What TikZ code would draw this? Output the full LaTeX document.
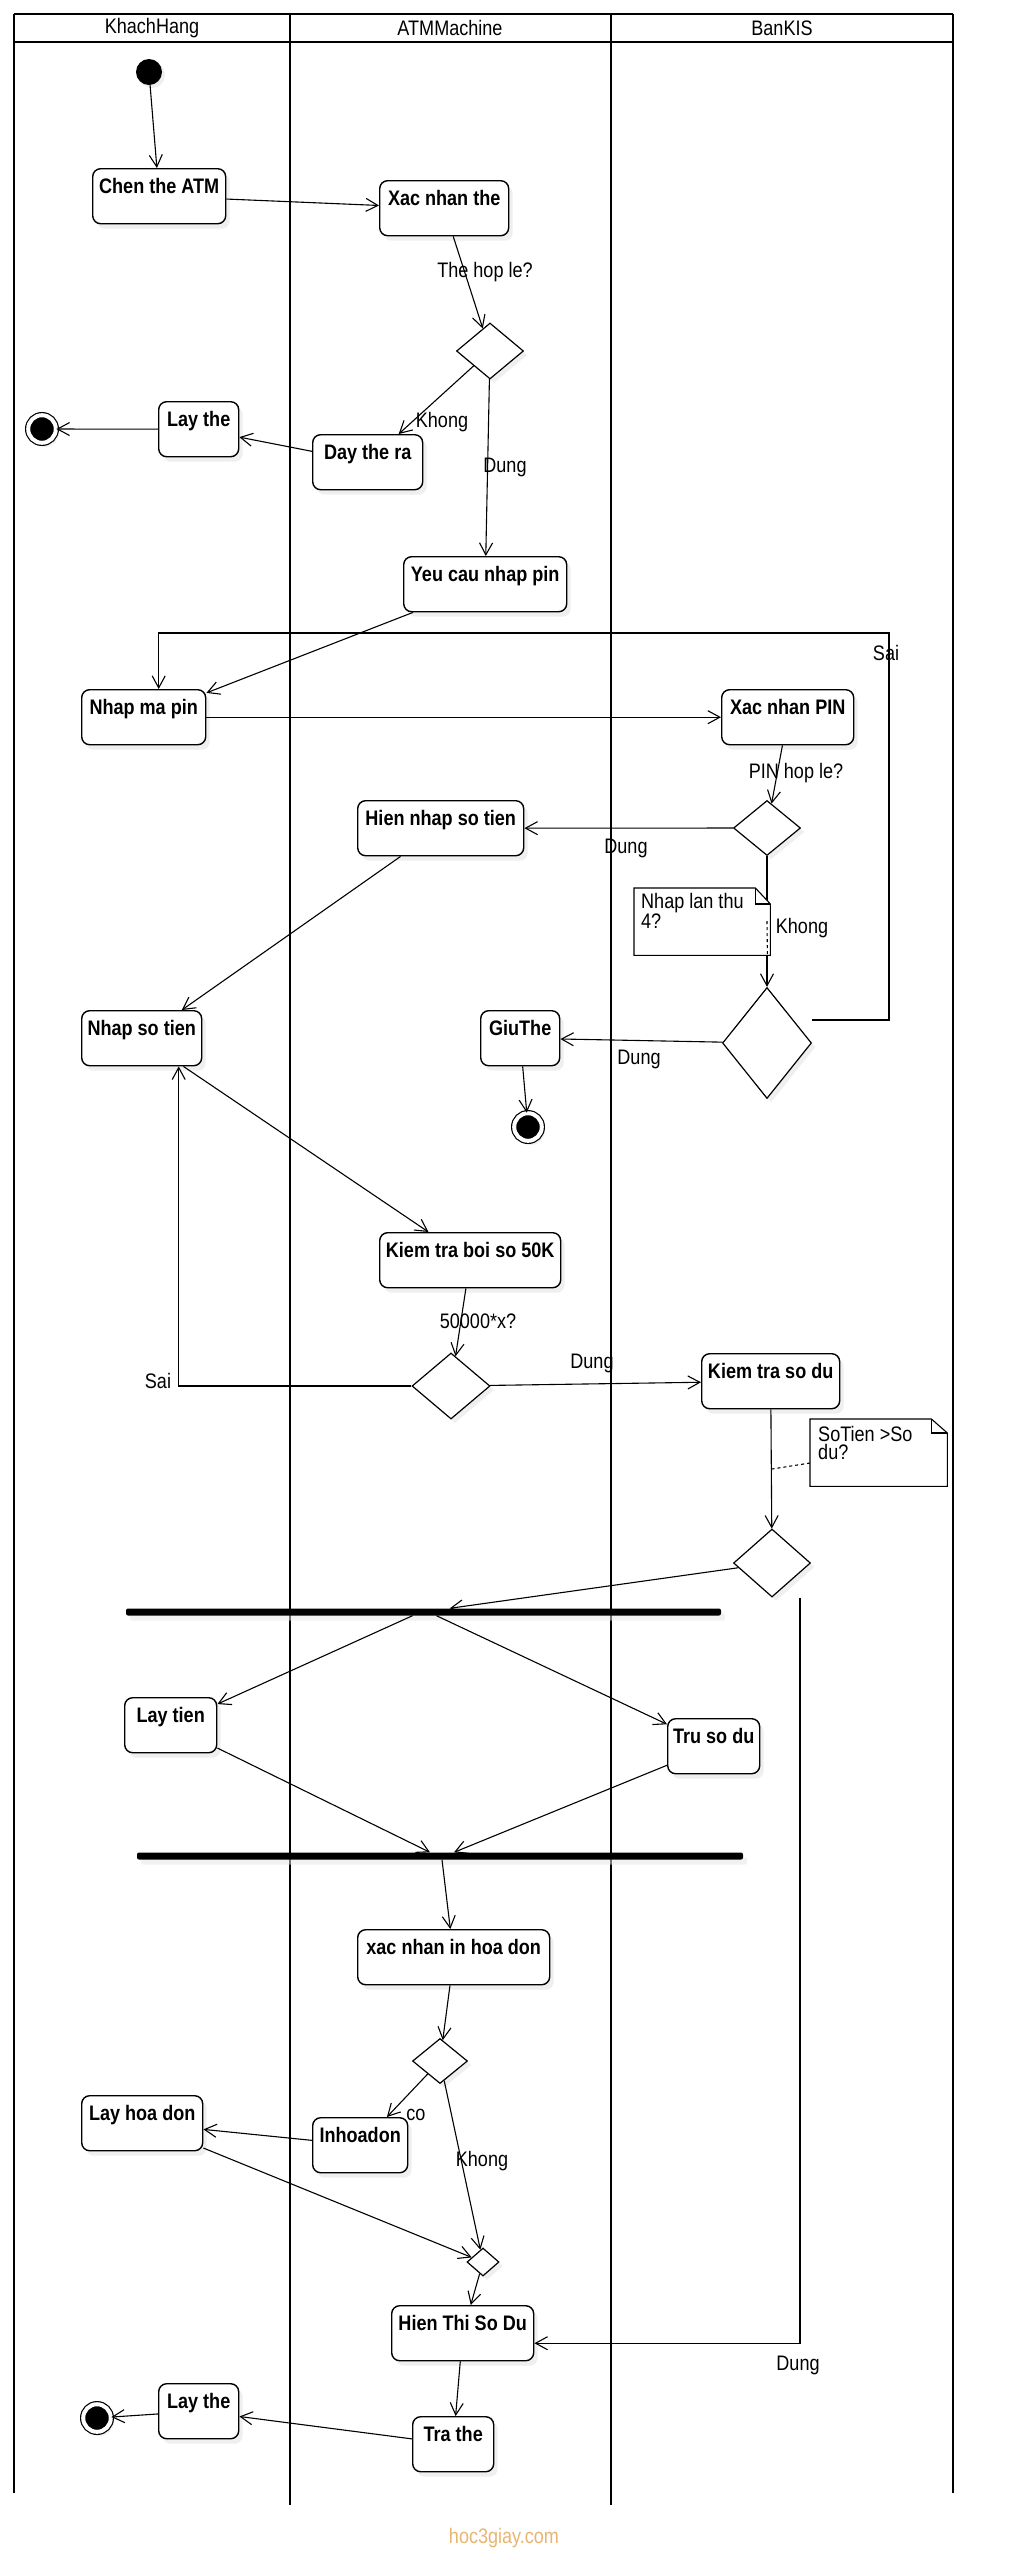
\documentclass[tikz,border=0pt]{standalone}
\usepackage{fontspec}
\setmainfont{Liberation Sans}[FakeStretch=0.86]
\usepackage{tikz}
\usetikzlibrary{arrows.meta, shapes.geometric, shadows}
\definecolor{wmark}{RGB}{232,182,112}

\begin{document}
\begin{tikzpicture}[x=1pt, y=-1pt,
	>={Straight Barb[length=12pt,width=13pt]},
	flow/.style={->, line width=1.1pt},
	act/.style={draw, rounded corners=8pt, line width=1.4pt, fill=white, anchor=north west,
		font=\fontsize{21}{21}\selectfont\bfseries, text height=15pt, text depth=20pt,
		inner xsep=0pt, inner ysep=10pt,
		drop shadow={shadow xshift=4pt, shadow yshift=-5pt, fill=black!12}},
	dec/.style={diamond, draw, line width=1.2pt, fill=white, inner sep=0pt,
		drop shadow={shadow xshift=4pt, shadow yshift=-4pt, fill=black!12}},
	fin/.style={circle, fill=black, draw=black, double=white, double distance=4pt,
		line width=1.2pt, minimum size=27.6pt, inner sep=0pt,
		drop shadow={shadow xshift=3pt, shadow yshift=-4pt, fill=black!12}},
	bar/.style={fill=black, rounded corners=2pt, minimum height=7pt, inner sep=0pt,
		drop shadow={shadow xshift=4pt, shadow yshift=-5pt, fill=black!10}},
	lbl/.style={font=\fontsize{21}{21}\selectfont, inner sep=0pt},
	txt/.style={font=\fontsize{21}{18}\selectfont, inner sep=0pt, align=left, anchor=north west},
	lane/.style={line width=2.6pt}]

	\fill[white] (0,0) rectangle (1010,2560);
	\useasboundingbox (0,0) rectangle (1010,2560);

	\draw[lane] (14,14) -- (953,14);
	\draw[lane] (14,42) -- (953,42);
	\draw[lane] (14,14) -- (14,2493);
	\draw[lane] (290,14) -- (290,2505);
	\draw[lane] (611,14) -- (611,2505);
	\draw[lane] (953,14) -- (953,2493);

	\node[lbl] (h1) at (152,28) {KhachHang};
	\node[lbl] (h2) at (450,28) {ATMMachine};
	\node[lbl] (h3) at (782,28) {BanKIS};

	\node[circle, fill=black, minimum size=26pt, inner sep=0pt,
		drop shadow={shadow xshift=3pt, shadow yshift=-3pt, fill=black!12}] (s) at (149,72) {};

	\node[act, minimum width=133pt] (k1) at (92,168) {Chen the ATM};
	\node[act, minimum width=129pt] (m1) at (379,180) {Xac nhan the};
	\node[dec, minimum width=67pt, minimum height=56pt] (d1) at (490,351) {};
	\node[act, minimum width=110pt] (m2) at (312,434) {Day the ra};
	\node[act, minimum width=80pt] (k2) at (158,401) {Lay the};
	\node[fin] (e1) at (42,429) {};
	\node[act, minimum width=163pt] (m3) at (403,556) {Yeu cau nhap pin};
	\node[act, minimum width=124pt] (k3) at (81,689) {Nhap ma pin};
	\node[act, minimum width=132pt] (b1) at (721,689) {Xac nhan PIN};
	\node[dec, minimum width=67pt, minimum height=55pt] (d2) at (767,828) {};
	\node[act, minimum width=166pt] (m4) at (357,800) {Hien nhap so tien};
	\node[dec, minimum width=89pt, minimum height=111pt] (d3) at (767,1043) {};
	\node[act, minimum width=79pt] (m5) at (480,1010) {GiuThe};
	\node[fin] (e2) at (528,1127) {};
	\node[act, minimum width=120pt] (k4) at (81,1010) {Nhap so tien};
	\node[act, minimum width=181pt] (m6) at (379,1232) {Kiem tra boi so 50K};
	\node[dec, minimum width=78pt, minimum height=66pt] (d4) at (451,1386) {};
	\node[act, minimum width=138pt] (b2) at (701,1353) {Kiem tra so du};
	\node[dec, minimum width=77pt, minimum height=68pt] (d5) at (772,1563) {};
	\node[bar, minimum width=595pt] (f1) at (423.5,1612) {};
	\node[act, minimum width=92pt] (k5) at (124,1697) {Lay tien};
	\node[act, minimum width=92pt] (b3) at (667,1718) {Tru so du};
	\node[bar, minimum width=606pt] (f2) at (440,1856) {};
	\node[act, minimum width=192pt] (m7) at (357,1929) {xac nhan in hoa don};
	\node[dec, minimum width=55pt, minimum height=45pt] (d6) at (440,2061) {};
	\node[act, minimum width=95pt] (m8) at (312,2117) {Inhoadon};
	\node[act, minimum width=121pt] (k6) at (81,2095) {Lay hoa don};
	\node[dec, minimum width=32pt, minimum height=28pt] (d7) at (483,2262) {};
	\node[act, minimum width=142pt] (m9) at (391,2305) {Hien Thi So Du};
	\node[act, minimum width=81pt] (m10) at (412,2416) {Tra the};
	\node[act, minimum width=80pt] (k7) at (158,2383) {Lay the};
	\node[fin] (e3) at (97,2418) {};

	\coordinate (c1) at (889,633);

	\path[flow] (s) edge (k1);
	\path[flow] (k1) edge (m1);
	\path[flow] (m1) edge (d1);
	\path[flow] (d1) edge (m2);
	\path[flow] (m2) edge (k2);
	\path[flow] (k2) edge (e1);
	\path[flow] (d1) edge (m3);
	\path[flow] (m3) edge (k3);
	\draw[flow] ([yshift=23pt]d3.east) -| (c1) -| ([xshift=15pt]k3.north);
	\path[flow] (k3) edge (b1);
	\path[flow] (b1) edge (d2);
	\path[flow] (d2) edge (m4);
	\path[flow] (m4) edge (k4);
	\path[flow] (d2) edge (d3);
	\path[flow] (d3) edge (m5);
	\path[flow] (m5) edge (e2);
	\path[flow] (k4) edge (m6);
	\path[flow] (m6) edge (d4);
	\draw[flow] (d4.west) -| ([xshift=37pt]k4.south);
	\path[flow] (d4) edge (b2);
	\path[flow] (b2) edge (d5);
	\path[flow] (d5) edge (f1);
	\path[flow] ([xshift=-11pt]f1.south) edge (k5);
	\path[flow] ([xshift=13pt]f1.south) edge (b3);
	\path[flow] (k5) edge ([xshift=-10pt]f2.north);
	\path[flow] (b3) edge ([xshift=14pt]f2.north);
	\path[flow] ([xshift=2pt]f2.south) edge (m7);
	\path[flow] (m7) edge (d6);
	\path[flow] (d6) edge (m8);
	\path[flow] (m8) edge (k6);
	\path[flow] (k6) edge (d7);
	\path[flow] (d6) edge (d7);
	\path[flow] (d7) edge (m9);
	\draw[flow] ([xshift=28pt]d5.south) |- ([yshift=-10pt]m9.east);
	\path[flow] (m9) edge (m10);
	\path[flow] (m10) edge (k7);
	\path[flow] (k7) edge (e3);

	\node[minimum width=136pt, minimum height=67pt, inner sep=0pt, anchor=north west] (n1) at (634,888) {};
	\draw[line width=1.1pt, fill=white] (n1.north west) -- ([xshift=-15pt]n1.north east)
		-- ([yshift=-16pt]n1.north east) -- (n1.south east) -- (n1.south west) -- cycle;
	\draw[line width=1.1pt] ([xshift=-15pt]n1.north east) |- ([yshift=-16pt]n1.north east);
	\node[txt] (t1) at (641,893) {Nhap lan thu\\4?};
	\coordinate (c2) at (767,921);
	\draw[line width=1.1pt, dashed] (c2) -- ([xshift=-3pt]n1.south east);

	\node[minimum width=137pt, minimum height=67pt, inner sep=0pt, anchor=north west] (n2) at (810,1419) {};
	\draw[line width=1.1pt, fill=white] (n2.north west) -- ([xshift=-16pt]n2.north east)
		-- ([yshift=-14pt]n2.north east) -- (n2.south east) -- (n2.south west) -- cycle;
	\draw[line width=1.1pt] ([xshift=-16pt]n2.north east) |- ([yshift=-14pt]n2.north east);
	\node[txt] (t2) at (818,1426) {SoTien >So\\du?};
	\coordinate (c3) at (772,1469);
	\draw[line width=1.1pt, dashed] ([yshift=-44pt]n2.north west) -- (c3);

	\node[lbl] (l1) at (485,272) {The hop le?};
	\node[lbl] (l2) at (442,422) {Khong};
	\node[lbl] (l3) at (505,467) {Dung};
	\node[lbl] (l4) at (886,653) {Sai};
	\node[lbl] (l5) at (796,773) {PIN hop le?};
	\node[lbl] (l6) at (626,848) {Dung};
	\node[lbl] (l7) at (802,928) {Khong};
	\node[lbl] (l8) at (639,1059) {Dung};
	\node[lbl] (l9) at (478,1321) {50000*x?};
	\node[lbl] (l10) at (158,1381) {Sai};
	\node[lbl] (l11) at (592,1363) {Dung};
	\node[lbl] (l12) at (416,2115) {co};
	\node[lbl] (l13) at (482,2161) {Khong};
	\node[lbl] (l14) at (798,2365) {Dung};

	\node[lbl, text=wmark] (w) at (504,2538) {hoc3giay.com};
\end{tikzpicture}
\end{document}
